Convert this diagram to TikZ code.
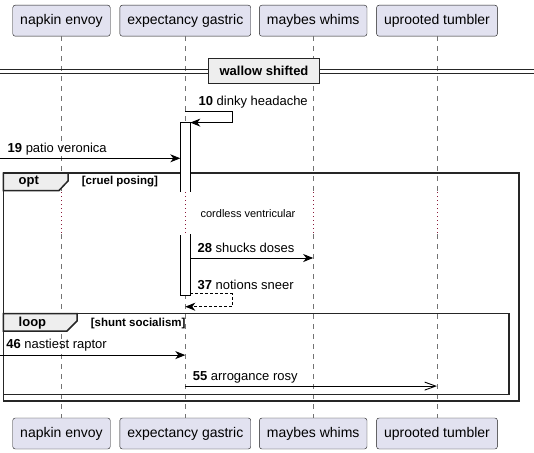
\documentclass[tikz,border=0pt]{standalone}
\usepackage{fontspec}
\setmainfont{Liberation Sans}
\usepackage{tikz}
\usetikzlibrary{calc}
\usetikzlibrary{arrows.meta}

\definecolor{partfill}{HTML}{E2E2F0}
\definecolor{partline}{HTML}{181818}
\definecolor{tabfill}{HTML}{EEEEEE}
\definecolor{delayred}{HTML}{8B1A3A}

\tikzset{
	party/.style = {draw = partline, fill = partfill, rounded corners = 2.5pt, minimum height = 31pt, inner xsep = 7.5pt, font = \fontsize{14}{16}\selectfont},
	life/.style = {draw = black!55, line width = 0.6pt, dash pattern = on 5pt off 5pt},
	delayline/.style = {draw = delayred, line width = 0.8pt, dash pattern = on 1pt off 3pt},
	msg/.style = {line width = 0.9pt, -{Stealth[length = 10pt, width = 8pt, inset = 3pt]}},
	openmsg/.style = {line width = 0.9pt, -{Straight Barb[length = 11pt, width = 8pt]}},
	lbl/.style = {anchor = west, inner sep = 0pt, font = \fontsize{13}{15}\selectfont},
	frame/.style = {draw = black!85, line width = 1.5pt},
	fword/.style = {anchor = west, inner sep = 0pt, font = \fontsize{13}{15}\selectfont\bfseries},
	guard/.style = {anchor = west, inner sep = 0pt, font = \fontsize{11.5}{13}\selectfont\bfseries},
	actbox/.style = {draw = black, fill = white, line width = 0.8pt}
}

\begin{document}
\begin{tikzpicture}[x = 1pt, y = -1pt]
	\useasboundingbox (0, 0) rectangle (534, 452);

	\node[party](ne) at (61.5, 20.7){napkin envoy};
	\node[party](eg) at (185.3, 20.7){expectancy gastric};
	\node[party](mw) at (313.2, 20.7){maybes whims};
	\node[party](ut) at (437, 20.7){uprooted tumbler};
	\node[party](neb) at (61.5, 433.5){napkin envoy};
	\node[party](egb) at (185.3, 433.5){expectancy gastric};
	\node[party](mwb) at (313.2, 433.5){maybes whims};
	\node[party](utb) at (437, 433.5){uprooted tumbler};

	\coordinate[](d1) at (0, 192);
	\coordinate[](d2) at (0, 234);

	\draw[life] (ne.south) -- (ne.south |- d1) (ne.south |- d2) -- (neb.north);
	\draw[life] (eg.south) -- (eg.south |- d1) (eg.south |- d2) -- (egb.north);
	\draw[life] (mw.south) -- (mw.south |- d1) (mw.south |- d2) -- (mwb.north);
	\draw[life] (ut.south) -- (ut.south |- d1) (ut.south |- d2) -- (utb.north);
	\draw[delayline] (ne.south |- d1) -- (ne.south |- d2);
	\draw[delayline] (eg.south |- d1) -- (eg.south |- d2);
	\draw[delayline] (mw.south |- d1) -- (mw.south |- d2);
	\draw[delayline] (ut.south |- d1) -- (ut.south |- d2);

	\draw[line width = 1.1pt, black!85] (0, 69.8) -- (534, 69.8) (0, 73.2) -- (534, 73.2);
	\node[draw = black!85, fill = tabfill, line width = 1.8pt, minimum width = 111pt, minimum height = 25pt, inner sep = 0pt, font = \fontsize{13}{15}\selectfont\bfseries](ws) at (264, 71){wallow shifted};

	\coordinate[](optnw) at (3.4, 173);
	\coordinate[](optse) at (519, 401);
	\draw[frame] (optnw) rectangle (optse);
	\draw[frame, fill = tabfill] (optnw) -- (68, 173) -- (68, 181) -- (59, 190.5) -- (3.4, 190.5) -- cycle;
	\node[fword](opt) at (18.5, 182){opt};
	\node[guard](cp) at (81.7, 181.7){[cruel posing]};

	\coordinate[](lpnw) at (3.4, 313.6);
	\coordinate[](lpse) at (508.8, 394.3);
	\draw[frame] (lpnw) rectangle (lpse);
	\draw[frame, fill = tabfill] (lpnw) -- (77, 313.6) -- (77, 321) -- (67, 331) -- (3.4, 331) -- cycle;
	\node[fword](loop) at (18.5, 323.5){loop};
	\node[guard](ss) at (90.7, 323.3){[shunt socialism]};

	\draw[actbox] (180.3, 192) -- (180.3, 122.6) -- (190.3, 122.6) -- (190.3, 192);
	\draw[actbox] (180.3, 234) -- (190.3, 234) -- (190.3, 295.5) -- (180.3, 295.5) -- cycle;
	\draw[white, line width = 1pt] (180.3, 234) -- (190.3, 234);

	\coordinate[](m10a) at (eg.south |- 0, 111.6);
	\coordinate[](m10b) at (190.3, 122.6);
	\draw[msg] (m10a) -- ++(46.7, 0) |- (m10b);
	\node[lbl](t10) at (198.4, 102){\textbf{10} dinky headache};

	\coordinate[](m19a) at (0, 158.3);
	\coordinate[](m19b) at (180.3, 158.3);
	\draw[msg] (m19a) -- (m19b);
	\node[lbl](t19) at (7.5, 149){\textbf{19} patio veronica};

	\node[inner sep = 0pt, font = \fontsize{11}{13}\selectfont](cv) at (248, 213.8){cordless ventricular};

	\coordinate[](m28a) at (190.3, 258);
	\coordinate[](m28b) at (mw.south |- m28a);
	\draw[msg] (m28a) -- (m28b);
	\node[lbl](t28) at (197.4, 247.8){\textbf{28} shucks doses};

	\coordinate[](m37a) at (190.3, 293.8);
	\coordinate[](m37b) at (eg.south |- 0, 306.7);
	\draw[msg, dash pattern = on 3pt off 2pt] (m37a) -- (232, 293.8) |- (m37b);
	\node[lbl](t37) at (197.4, 285.3){\textbf{37} notions sneer};

	\coordinate[](m46a) at (0, 355.1);
	\coordinate[](m46b) at (eg.south |- m46a);
	\draw[msg] (m46a) -- (m46b);
	\node[lbl](t46) at (6.1, 344.9){\textbf{46} nastiest raptor};

	\coordinate[](m55a) at (eg.south |- 0, 386.1);
	\coordinate[](m55b) at (ut.south |- m55a);
	\draw[openmsg] (m55a) -- (m55b);
	\node[lbl](t55) at (192.6, 377.6){\textbf{55} arrogance rosy};
\end{tikzpicture}
\end{document}
